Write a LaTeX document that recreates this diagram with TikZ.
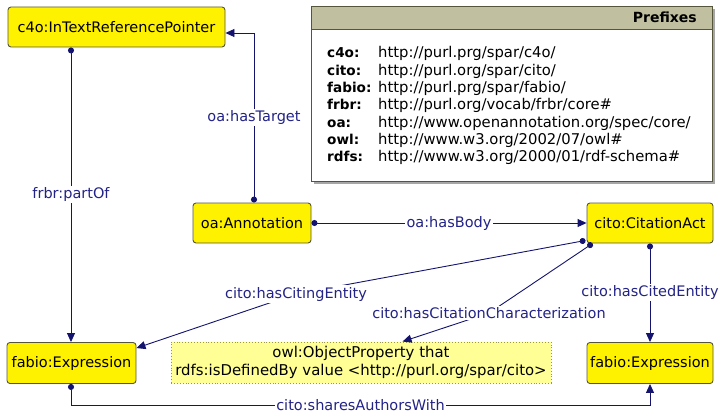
\documentclass[tikz,border=0pt]{standalone}
\usepackage{fontspec}
\setmainfont{DejaVu Sans}
\usetikzlibrary{arrows.meta,calc}
\definecolor{edgec}{RGB}{20,20,110}
\definecolor{lblc}{RGB}{35,35,135}
\definecolor{boxborder}{RGB}{85,85,60}
\definecolor{hdr}{RGB}{192,192,160}
\definecolor{notefill}{RGB}{255,255,150}
\definecolor{noteborder}{RGB}{150,150,90}
\begin{document}
\begin{tikzpicture}[x=1pt,y=-1pt,
  cls/.style={draw=boxborder,fill=yellow,rounded corners=3pt,line width=0.9pt,
    inner sep=0pt,font=\fontsize{14.5}{16}\selectfont,text=black},
  edge/.style={draw=edgec,line width=0.9pt,{Circle[length=6pt]}-{Triangle[length=9pt,width=8pt]}},
  lbl/.style={fill=white,inner sep=1.5pt,text=lblc,font=\fontsize{14.5}{16}\selectfont},
  pfx/.style={anchor=base west,inner sep=0pt,font=\fontsize{14.8}{16}\selectfont}]
\useasboundingbox (0,0) rectangle (719,414);

% Prefixes box
\fill[black!35] (314,9) rectangle (715,184);
\draw[boxborder,line width=0.9pt,fill=white] (311,6) rectangle (712,181);
\draw[boxborder,line width=0.9pt,fill=hdr] (311,6) rectangle (712,29);
\node[anchor=east,inner sep=0pt,font=\bfseries\fontsize{14}{15}\selectfont] (ptitle) at (697,17.5) {Prefixes};
\foreach \p/\u [count=\i from 0] in {c4o:/{http://purl.prg/spar/c4o/},cito:/{http://purl.org/spar/cito/},fabio:/{http://purl.prg/spar/fabio/},frbr:/{http://purl.org/vocab/frbr/core\#},oa:/{http://www.openannotation.org/spec/core/},owl:/{http://www.w3.org/2002/07/owl\#},rdfs:/{http://www.w3.org/2000/01/rdf-schema\#}}{
  \node[pfx,font=\bfseries\fontsize{13.6}{15}\selectfont] (pk\i) at (327,{58+17.3*\i}) {\p};
  \node[pfx] (pv\i) at (378,{58+17.3*\i}) {\u};
}

% classes
\node[cls,minimum width=217pt,minimum height=40pt] (itrp) at (116.5,27) {c4o:InTextReferencePointer};
\node[cls,minimum width=118pt,minimum height=40pt] (ann) at (252,223) {oa:Annotation};
\node[cls,minimum width=126pt,minimum height=40pt] (ca) at (650,223) {cito:CitationAct};
\node[cls,minimum width=129pt,minimum height=41pt] (fe1) at (71.5,363) {fabio:Expression};
\node[cls,minimum width=126pt,minimum height=41pt] (fe2) at (650,363) {fabio:Expression};
\node[draw=noteborder,dotted,line width=0.9pt,fill=notefill,minimum width=380pt,minimum height=41pt,
  align=center,inner sep=0pt,font=\fontsize{14.9}{18}\selectfont] (note) at (361,362.5)
  {owl:ObjectProperty that\\rdfs:isDefinedBy value <http://purl.org/spar/cito>};

% edges
\draw[edge] (itrp.south -| 71,0) -- node[lbl] {frbr:partOf} (fe1.north -| 71,0);
\draw[edge] (ann.north -| 254,0) |- node[lbl,pos=0.25] {oa:hasTarget} (itrp.east |- 0,33);
\draw[edge] (ann.east) -- node[lbl] {oa:hasBody} (ca.west);
\draw[edge] ($(ca.south west)+(-1,-3)$) -- (296,294) node[lbl] {cito:hasCitingEntity} -- ($(fe1.north east)+(0,6)$);
\draw[edge] ($(ca.south west)+(6,0)$) -- (489,313) node[lbl] {cito:hasCitationCharacterization} -- ($(note.north west)+(232,0)$);
\draw[edge] (ca.south) -- node[lbl] {cito:hasCitedEntity} (fe2.north);
\draw[edge] (fe1.south -| 71,0) |- node[lbl,pos=0.75] {cito:sharesAuthorsWith} (0,405 -| fe2.south) -- (fe2.south);
\end{tikzpicture}
\end{document}
